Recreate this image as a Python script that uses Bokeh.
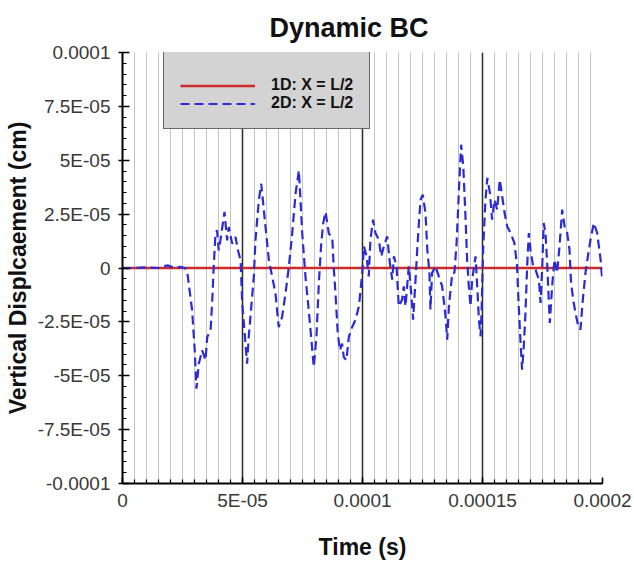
import numpy as np
from bokeh.plotting import figure
from bokeh.models import Range1d, FixedTicker, Legend, LegendItem, CustomJSTickFormatter
from bokeh.embed import file_html
from bokeh.resources import INLINE

# ---------------- data ----------------
title_text = "Dynamic BC"
x_label = "Time (s)"
y_label = "Vertical Displcaement (cm)"
series_names = ["1D: X = L/2", "2D: X = L/2"]

x_ticks = [0.0, 5e-05, 1e-04, 1.5e-04, 2e-04]
x_tick_labels = ["0", "5E-05", "0.0001", "0.00015", "0.0002"]
y_ticks = [-1e-04, -7.5e-05, -5e-05, -2.5e-05, 0.0, 2.5e-05, 5e-05, 7.5e-05, 1e-04]
y_tick_labels = ["-0.0001", "-7.5E-05", "-5E-05", "-2.5E-05", "0",
                 "2.5E-05", "5E-05", "7.5E-05", "0.0001"]

# 1D solution (flat at zero)
time_1d = [0.0, 2e-04]
disp_1d = [0.0, 0.0]

# 2D solution: time in microseconds, displacement in 1e-6 cm
time_2d_us = [
    0, 5, 10, 15, 17, 19, 21, 24, 26,
    26.9, 27.6, 29.0, 30.1, 30.8, 31.8, 33.2, 34.6, 35.3, 36.7, 37.4, 38.0,
    38.75, 39.4, 40.1, 40.8, 42.5, 43.6, 44.3, 45.7, 47.1, 48.1, 49.2, 49.9,
    50.8, 51.9, 52.6, 53.3, 54.7, 55.4, 56.8, 57.8, 58.9, 60.0, 61.0, 62.4,
    63.75, 65.1, 66.5, 67.9, 69.3, 70.7, 72.1, 73.5, 74.9, 76.25, 77.6, 78.6,
    79.7, 80.8, 81.8, 82.8, 83.6, 84.6, 86.0, 87.4, 88.0, 88.75, 89.7, 90.6,
    91.5, 92.2, 93.3, 94.3, 95.7,
    97.1, 98.5, 99.9, 100.6, 101.7, 102.6, 103.3, 104.4, 105.4, 106.8, 107.8,
    108.9, 110.3, 111.4, 112.4, 113.1, 114.2, 115.1, 116.5, 117.2, 117.9,
    119.3, 120.3, 121.1, 122.1, 122.8, 123.5, 124.2, 125.1, 126.25, 127.0,
    127.9, 128.3, 129.0, 130.4, 131.8, 133.2, 134.6, 135.3, 136.0, 137.4,
    138.3, 139.2, 139.7, 140.3, 141.1, 142.0, 142.9, 143.6, 144.3, 145.0,
    145.7, 147.1, 147.8, 148.5, 149.2, 149.6, 150.3, 151.25, 152.0, 153.1,
    154.0, 155.0, 156.1, 157.2, 158.2, 159.2, 160.3, 161.7, 163.3, 164.4,
    165.1, 165.8, 166.5, 167.2, 167.9, 168.6, 169.3, 170.0, 171.1, 172.1,
    173.5, 174.2, 174.9, 175.5, 176.25, 177.0, 177.6, 178.05, 179.0, 180.0,
    181.1, 182.2, 183.2, 184.2, 185.3, 186.25, 186.9, 187.8, 188.75, 189.9,
    190.8, 191.8, 192.9, 193.9, 195.0, 196.4, 197.8, 199.2, 199.9,
]
disp_2d_e6 = [
    0, 0, 0.3, 0, 0.8, 1.2, 0.3, 0.5, 0,
    -1.1, -7.3, -19.6, -38.2, -56.0, -44.4, -38.2, -42.8, -32.0, -29.0, -15.0, 0.5,
    15.9, 17.5, 8.2, 12.8, 26.0, 12.8, 19.0, 11.3, 14.4, 8.2, 3.6, -16.6,
    -28.9, -44.4, -32.0, -22.7, -4.2, 12.8, 31.4, 39.1, 26.8, 14.4, 3.6, -4.2,
    -11.9, -27.4, -22.7, -11.9, 0.5, 15.9, 34.5, 45.3, 15.9, -4.2, -19.6, -32.0,
    -45.9, -32.0, -7.3, 11.3, 20.6, 26.0, 15.9, 14.4, 0.5, -11.9, -30.5, -38.2,
    -35.1, -41.3, -42.8, -32.0, -27.4,
    -24.0, -17.8, -2.3, 10.1, 5.4, -3.9, 13.1, 22.4, 16.2, 13.1, 5.4,
    10.1, 14.7, 2.3, -5.4, 5.4, 0.8, -17.8, -14.7, -8.5, -17.8,
    0.8, -11.6, -24.0, -5.4, 8.5, 20.9, 31.7, 34.0, 25.5, 8.5,
    -2.3, -19.3, -2.3, 0.8, -3.9, -8.5, -22.4, -33.3, -17.8, -2.3,
    -2.3, 11.6, 24.0, 39.4, 57.2, 47.2, 24.0, 3.9, -8.5, -17.8,
    -5.4, 5.4, -8.5, -24.0, -31.7, -20.9, 10.1, 31.7, 41.8, 34.8,
    22.4, 31.7, 27.1, 41.0, 33.3, 25.5, 19.3, 16.2, 11.6, 0.8,
    -17.8, -33.3, -47.2, -36.4, -20.9, 0.8, 16.2, 8.5, 0.8, -0.8,
    -5.4, -16.2, 0.8, 20.9, 16.2, 0.8, -14.7, -25.5, -8.5, 3.9,
    -2.3, 11.6, 27.1, 19.3, 16.2, 8.5, -7.0, -14.7, -20.9, -27.1,
    -28.6, -14.7, -2.3, 5.4, 13.1, 20.9, 16.2, 3.9, -5.4,
]

time_2d = np.array(time_2d_us) * 1e-6
disp_2d = np.array(disp_2d_e6) * 1e-6

# ---------------- figure ----------------
FONT = "Liberation Sans"

p = figure(width=634, height=563, output_backend="svg", toolbar_location=None,
           x_range=Range1d(0, 2e-4), y_range=Range1d(-1e-4, 1e-4),
           min_border_left=122, min_border_right=32, min_border_top=52,
           min_border_bottom=80, title=title_text)
p.outline_line_color = None
p.background_fill_color = "white"
p.border_fill_color = "white"

p.title.text_font = FONT
p.title.text_font_size = "27px"
p.title.text_font_style = "bold"
p.title.text_color = "#111111"
p.title.align = "left"
p.title.offset = 147
p.title.standoff = 20

fmt_code = """
let best = 0, bd = Infinity;
for (let i = 0; i < tvals.length; i++) {
  const d = Math.abs(tvals[i] - tick);
  if (d < bd) { bd = d; best = i; }
}
return tlabels[best];
"""

x_minor = [round(i * 5e-6, 12) for i in range(41)]
y_minor = [round(-1e-4 + i * 5e-6, 12) for i in range(41)]

xa = p.xaxis[0]
xa.ticker = FixedTicker(ticks=x_ticks, minor_ticks=x_minor)
xa.formatter = CustomJSTickFormatter(args=dict(tvals=x_ticks, tlabels=x_tick_labels), code=fmt_code)
ya = p.yaxis[0]
ya.ticker = FixedTicker(ticks=y_ticks, minor_ticks=y_minor)
ya.formatter = CustomJSTickFormatter(args=dict(tvals=y_ticks, tlabels=y_tick_labels), code=fmt_code)

for ax in (xa, ya):
    ax.axis_line_color = "black"
    ax.axis_line_width = 2
    ax.major_tick_line_color = "black"
    ax.major_tick_line_width = 1.5
    ax.minor_tick_line_color = "black"
    ax.minor_tick_line_width = 1.2
    ax.major_label_text_font = FONT
    ax.major_label_text_font_size = "19px"
    ax.major_label_text_color = "#383838"
    ax.axis_label_text_font = FONT
    ax.axis_label_text_font_size = "23px"
    ax.axis_label_text_font_style = "bold"
    ax.axis_label_text_color = "#111111"

xa.axis_label = x_label
xa.major_tick_in = 6
xa.major_tick_out = 0
xa.minor_tick_in = 4
xa.minor_tick_out = 0
xa.major_label_standoff = 6
xa.axis_label_standoff = 20

ya.axis_label = y_label
ya.major_tick_in = 7
ya.major_tick_out = 4
ya.minor_tick_in = 4
ya.minor_tick_out = 0
ya.major_label_standoff = 8
ya.axis_label_standoff = 4

p.xgrid.ticker = xa.ticker
p.xgrid.grid_line_color = "#2a2a2a"
p.xgrid.grid_line_width = 1.5
p.xgrid.minor_grid_line_color = "#8a8a8a"
p.xgrid.minor_grid_line_dash = "1 1"
p.xgrid.minor_grid_line_width = 1
p.ygrid.visible = False

r1 = p.line(time_1d, disp_1d, line_color="#cc2b2b", line_width=2.5)
r2 = p.line(time_2d, disp_2d, line_color="#2b2bd6", line_width=2.2, line_dash="9 5")

legend = Legend(items=[LegendItem(label=series_names[0], renderers=[r1]),
                       LegendItem(label=series_names[1], renderers=[r2])],
                location=(41, 354))
legend.label_text_font = FONT
legend.label_text_font_size = "16px"
legend.label_text_font_style = "bold"
legend.label_text_color = "#111111"
legend.background_fill_color = "#d3d3d3"
legend.background_fill_alpha = 1
legend.border_line_color = "black"
legend.border_line_width = 1
legend.padding = 16
legend.spacing = 0
legend.margin = 0
legend.glyph_width = 75
legend.glyph_height = 17
legend.label_height = 17
legend.label_standoff = 16
legend.title = " "
legend.title_text_font_size = "12px"
legend.title_standoff = 0
p.add_layout(legend)

open("out.html", "w").write(file_html(p, INLINE))
